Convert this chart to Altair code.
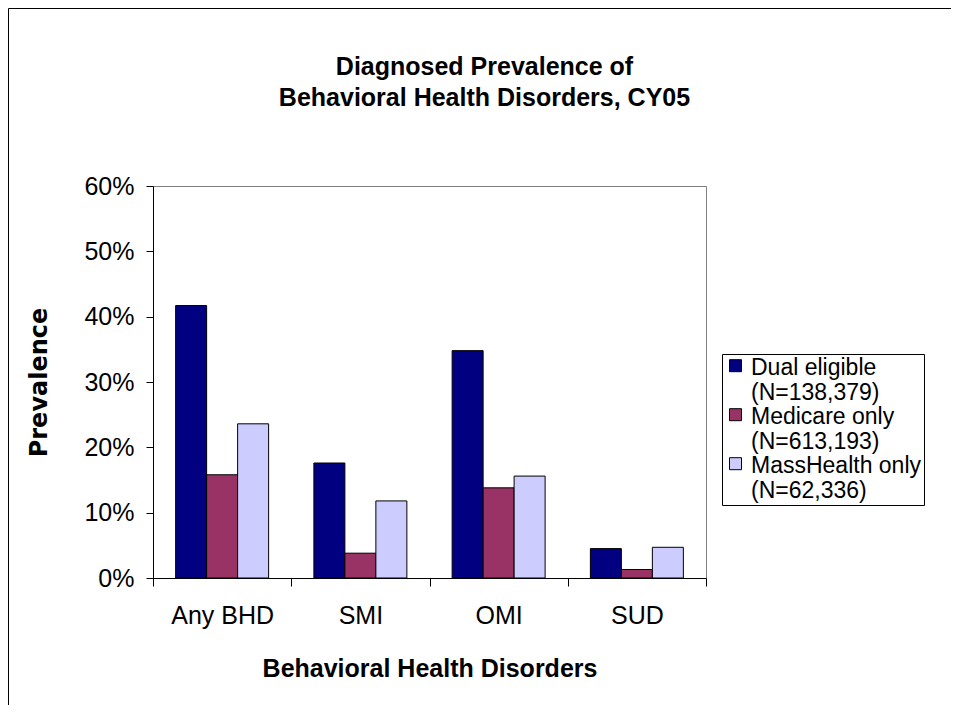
import altair as alt
import pandas as pd

categories = ["Any BHD", "SMI", "OMI", "SUD"]
groups = ["Dual eligible|(N=138,379)", "Medicare only|(N=613,193)", "MassHealth only|(N=62,336)"]
dual = [0.417, 0.176, 0.348, 0.045]
medicare = [0.158, 0.038, 0.138, 0.013]
masshealth = [0.236, 0.118, 0.156, 0.047]
colors = ["#000080", "#993366", "#CCCCFF"]

rows = []
for gi, series in enumerate([dual, medicare, masshealth]):
    for ci, cat in enumerate(categories):
        rows.append({"cat": cat, "group": groups[gi], "order": gi, "value": series[ci]})
df = pd.DataFrame(rows)

FONT = "Liberation Sans"

bars = alt.Chart(df).mark_bar(stroke="black", strokeWidth=1).encode(
    x=alt.X("cat:N", sort=categories,
            scale=alt.Scale(paddingInner=0, paddingOuter=0),
            axis=alt.Axis(title="Behavioral Health Disorders", labelAngle=0,
                          tickBand="extent", tickSize=8, labelPadding=17,
                          titlePadding=28)),
    xOffset=alt.XOffset("group:N", sort=groups,
                        scale=alt.Scale(paddingInner=0, paddingOuter=0.73)),
    y=alt.Y("value:Q", scale=alt.Scale(domain=[0, 0.6]),
            axis=alt.Axis(title="Prevalence", format=".0%", values=[0, 0.1, 0.2, 0.3, 0.4, 0.5, 0.6],
                          tickSize=7, labelPadding=12, titlePadding=32, grid=False,
                          titleFont="DejaVu Sans", titleFontSize=24)),
    color=alt.Color("group:N", sort=groups,
                    scale=alt.Scale(domain=groups, range=colors),
                    legend=alt.Legend(title=None, orient="none", legendX=569, legendY=168,
                                      labelExpr="split(datum.label, '|')",
                                      symbolType="M-1,-1.3H1V0.7H-1Z",
                                      symbolSize=144, symbolStrokeColor="black",
                                      symbolStrokeWidth=1, labelFontSize=23,
                                      labelFont=FONT, labelColor="black", labelOffset=4,
                                      strokeColor="black", padding=2, rowPadding=-2,
                                      labelLimit=400)),
)

frame_data = pd.DataFrame({"a": [0]})
frame_left = alt.Chart(frame_data).mark_rule(color="black", strokeWidth=1).encode(
    x=alt.value(-144.5), y=alt.value(-177.5), y2=alt.value(520))
frame_top = alt.Chart(frame_data).mark_rule(color="black", strokeWidth=1).encode(
    x=alt.value(-144.5), x2=alt.value(800), y=alt.value(-177.5))

chart = alt.layer(bars, frame_left, frame_top).properties(
    width=553, height=392,
    title=alt.TitleParams(["Diagnosed Prevalence of", "Behavioral Health Disorders, CY05"],
                          font=FONT, fontSize=25, fontWeight="bold", color="black",
                          anchor="middle", dx=55, offset=-103, lineHeight=31),
    autosize=alt.AutoSizeParams(type="none"),
    padding={"left": 145, "top": 178, "right": 245, "bottom": 127},
).configure(background="white").configure_view(stroke="#808080", strokeWidth=1).configure_axis(
    labelFont=FONT, labelFontSize=25, labelColor="black",
    titleFont=FONT, titleFontSize=25, titleFontWeight="bold", titleColor="black",
    domainColor="black", tickColor="black", domainWidth=1, tickWidth=1,
)

chart.save("out.html", embed_options={"renderer": "svg", "actions": False})
